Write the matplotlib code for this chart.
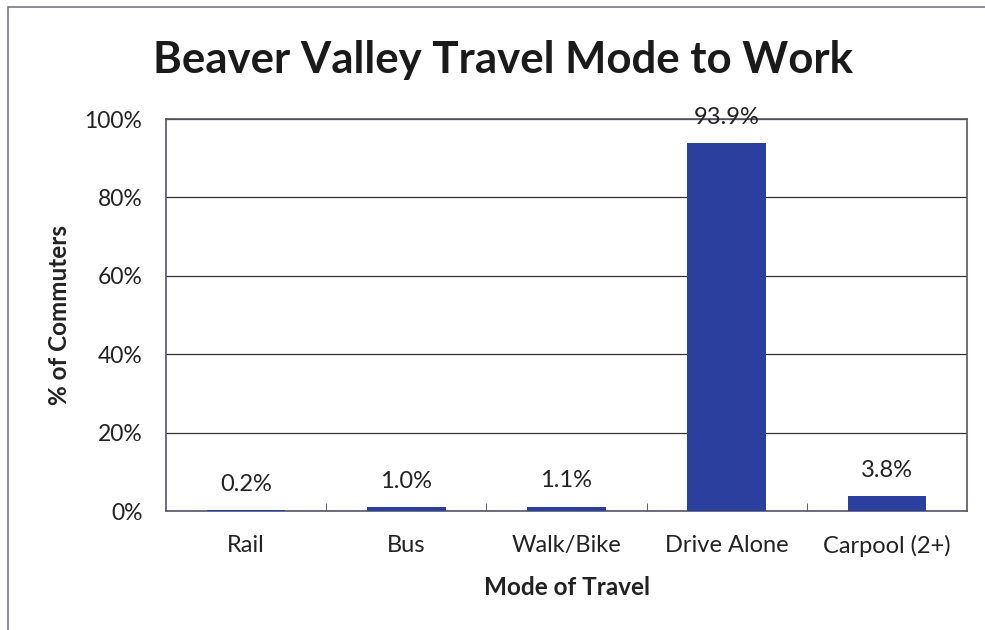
import matplotlib.pyplot as plt
from matplotlib.patches import Rectangle

modes = ['Rail', 'Bus', 'Walk/Bike', 'Drive Alone', 'Carpool (2+)']
shares = [0.2, 1.0, 1.1, 93.9, 3.8]
yticks = [0, 20, 40, 60, 80, 100]

plt.rcParams['font.family'] = ['Lato', 'DejaVu Sans']
txt = '#222222'
bar_col = '#2a3f9e'
fs = 17

fig = plt.figure(figsize=(9.85, 6.3), dpi=100)
ax = fig.add_axes([166/985, 1-511/630, (967-166)/985, (511-119)/630])

x = range(len(modes))
ax.bar(x, shares, width=0.49, color=bar_col, zorder=3)
for i, v in enumerate(shares):
    ax.annotate(f'{v:.1f}%', (i, v), xytext=(0, 11), textcoords='offset points',
                ha='center', va='bottom', fontsize=fs, color=txt)

ax.set_xlim(-0.5, len(modes) - 0.5)
ax.set_ylim(0, 100)
ax.set_yticks(yticks)
ax.set_yticklabels([f'{t}%' for t in yticks], fontsize=16.5, color=txt)
ax.yaxis.grid(True, color='#333333', linewidth=0.9, zorder=0)
ax.tick_params(axis='y', length=0, pad=17)

ax.set_xticks(x)
ax.set_xticklabels(modes, fontsize=fs, color=txt)
ax.tick_params(axis='x', length=0, pad=17)
# category separators on the x axis
ax.set_xticks([i + 0.5 for i in range(len(modes) - 1)], minor=True)
ax.tick_params(axis='x', which='minor', direction='in', length=6, color='#444466')

for s in ax.spines.values():
    s.set_color('#55556a')
    s.set_linewidth(1.2)

ax.set_xlabel('Mode of Travel', fontsize=17.5, fontweight='bold', color=txt, labelpad=14)
ax.set_ylabel('% of Commuters', fontsize=17.5, fontweight='bold', color=txt, labelpad=10)

fig.text(0.511, 1-60/630, 'Beaver Valley Travel Mode to Work', ha='center', va='center',
         fontsize=31.5, fontweight='bold', color='#1a1a1a')

# outer chart border
fig.patches.append(Rectangle((8/985, -0.05), 1.2, 1-7/630+0.05, transform=fig.transFigure,
                             fill=False, edgecolor='#77778a', linewidth=1.2))

fig.savefig('out.png', dpi=100)
